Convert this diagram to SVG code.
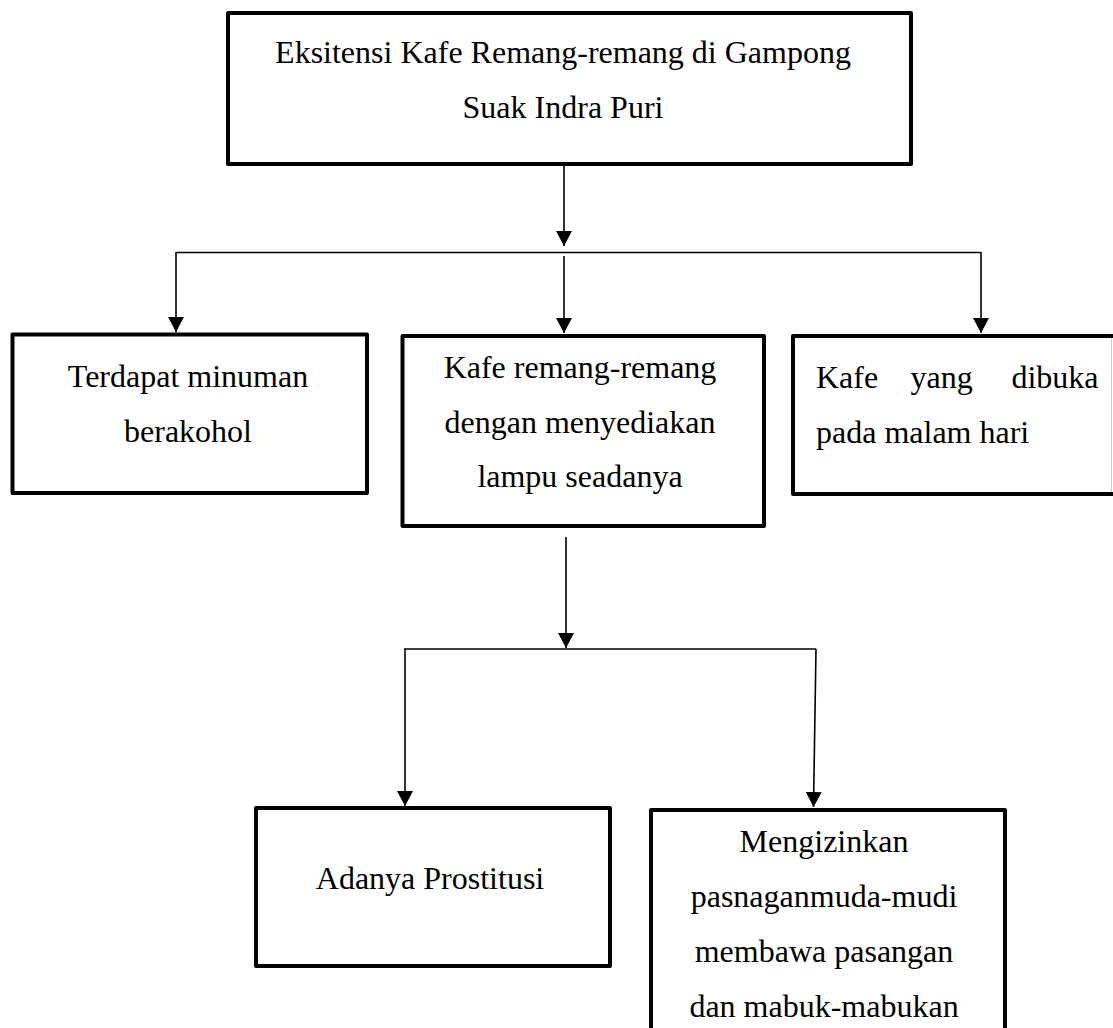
<svg xmlns="http://www.w3.org/2000/svg" width="1113" height="1028" viewBox="0 0 1113 1028">
<style>
.box{fill:#fff;stroke:#000;stroke-width:4;stroke-linejoin:round}
.t{font-family:"Liberation Serif","Times New Roman",serif;font-size:32px;fill:#000}
.c{text-anchor:middle}
.ln{fill:none;stroke:#000;stroke-width:1.6}
</style>
<defs>
<marker id="ah" markerUnits="userSpaceOnUse" markerWidth="15" markerHeight="16" refX="15" refY="8" orient="auto" viewBox="0 0 15 16">
<path d="M0,0 L15,8 L0,16 Z" fill="#000"/>
</marker>
</defs>
<rect width="1113" height="1028" fill="#fff"/>
<g id="connectors">
<line class="ln" x1="564" y1="164" x2="564" y2="246" marker-end="url(#ah)"/>
<line class="ln" x1="176" y1="252.5" x2="981" y2="252.5"/>
<line class="ln" x1="176" y1="252" x2="176" y2="332" marker-end="url(#ah)"/>
<line class="ln" x1="564" y1="256" x2="564" y2="333" marker-end="url(#ah)"/>
<line class="ln" x1="981" y1="252" x2="981" y2="333" marker-end="url(#ah)"/>
<line class="ln" x1="566" y1="537" x2="566" y2="648" marker-end="url(#ah)"/>
<line class="ln" x1="404" y1="649" x2="816" y2="649"/>
<line class="ln" x1="405" y1="649" x2="405" y2="806" marker-end="url(#ah)"/>
<line class="ln" x1="816" y1="649" x2="813.5" y2="807" marker-end="url(#ah)"/>
</g>
<g id="node-top">
<rect class="box" x="228" y="13" width="683" height="151"/>
<text class="t c" x="563" y="63">Eksitensi Kafe Remang-remang di Gampong</text>
<text class="t c" x="563" y="118">Suak Indra Puri</text>
</g>
<g id="node-minuman">
<rect class="box" x="12.5" y="334.5" width="354.5" height="158.5"/>
<text class="t c" x="188" y="387">Terdapat minuman</text>
<text class="t c" x="188" y="442">berakohol</text>
</g>
<g id="node-lampu">
<rect class="box" x="402.5" y="336" width="361.5" height="190"/>
<text class="t c" x="580" y="378">Kafe remang-remang</text>
<text class="t c" x="580" y="433">dengan menyediakan</text>
<text class="t c" x="580" y="487">lampu seadanya</text>
</g>
<g id="node-malam">
<rect class="box" x="793" y="336" width="340" height="158"/>
<line x1="1111.5" y1="338" x2="1111.5" y2="492" stroke="#ccc" stroke-width="1"/>
<text class="t" x="816" y="388">Kafe</text>
<text class="t" x="910.5" y="388">yang</text>
<text class="t" x="1098.5" y="388" text-anchor="end">dibuka</text>
<text class="t" x="816" y="443">pada malam hari</text>
</g>
<g id="node-prostitusi">
<rect class="box" x="256" y="808" width="354" height="158"/>
<text class="t c" x="430" y="889">Adanya Prostitusi</text>
</g>
<g id="node-mengizinkan">
<rect class="box" x="651" y="810" width="354" height="260"/>
<text class="t c" x="824" y="852">Mengizinkan</text>
<text class="t c" x="824" y="907">pasnaganmuda-mudi</text>
<text class="t c" x="824" y="962">membawa pasangan</text>
<text class="t c" x="824" y="1017">dan mabuk-mabukan</text>
</g>
</svg>
